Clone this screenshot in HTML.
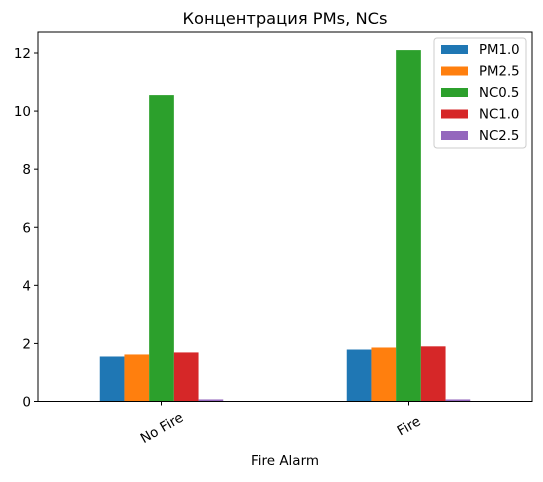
<!DOCTYPE html>
<html><head><meta charset="utf-8"><style>
body{margin:0;background:#fff;font-family:"Liberation Sans","DejaVu Sans",sans-serif;}
text{font-family:"DejaVu Sans","Liberation Sans",sans-serif;}
</style></head><body>
<svg id="c" width="543" height="477" xmlns="http://www.w3.org/2000/svg"></svg>
<script>
const categories=["No Fire","Fire"];
const seriesNames=["PM1.0","PM2.5","NC0.5","NC1.0","NC2.5"];
const pm10=[1.55,1.79];
const pm25=[1.62,1.86];
const nc05=[10.55,12.1];
const nc10=[1.69,1.9];
const nc25=[0.07,0.07];
const yTicks=[0,2,4,6,8,10,12];
const series=[pm10,pm25,nc05,nc10,nc25];
const colors=["#1f77b4","#ff7f0e","#2ca02c","#d62728","#9467bd"];
const L=38,R=532,T=32,B=401.5;
const xs=v=>L+(v+0.5)/2*(R-L);
const ys=v=>B-v*(B-53)/12;
const svg=document.getElementById('c');
const NS="http://www.w3.org/2000/svg";
function el(t,a,p){const e=document.createElementNS(NS,t);for(const k in a)e.setAttribute(k,a[k]);(p||svg).appendChild(e);return e;}
series.forEach((s,si)=>{s.forEach((v,ci)=>{
 const x0=xs(ci-0.25+si*0.1);
 const r=el('rect',{x:x0,y:ys(v),width:xs(0.1)-xs(0),height:B-ys(v),fill:colors[si]});
 
 
});});
const ax=el('rect',{x:L,y:T,width:R-L,height:B-T,fill:'none',stroke:'#000','stroke-width':1});


yTicks.forEach(t=>{
 el('line',{x1:L-4,x2:L,y1:ys(t),y2:ys(t),stroke:'#000'});
 const tx=el('text',{x:L-7,y:ys(t)+5,'font-size':13.5,'text-anchor':'end'});tx.textContent=t;
 
 
});
categories.forEach((c,i)=>{
 const x=xs(i);
 el('line',{x1:x,x2:x,y1:B,y2:B+4,stroke:'#000'});
 const cy=B+(i==0?26:24);
 const tx=el('text',{x:x,y:cy+5,'font-size':13.5,'text-anchor':'middle',transform:`rotate(-30 ${x} ${cy})`});tx.textContent=c;
 
 
});
const xt=el('text',{x:285,y:465,'font-size':13.5,'text-anchor':'middle'});xt.textContent="Fire Alarm";


const tt=el('text',{x:285,y:24,'font-size':16.3,'text-anchor':'middle'});tt.textContent="Концентрация PMs, NCs";


const lg=el('g',{});


el('rect',{x:434,y:38,width:92,height:110,rx:3,fill:'#fff',stroke:'#ccc'},lg);
seriesNames.forEach((n,i)=>{
 const y=44+i*21.5;
 el('rect',{x:441,y:y+1,width:27,height:9,fill:colors[i]},lg);
 const t=el('text',{x:479,y:y+10,'font-size':13.3},lg);t.textContent=n;
 
 
});
</script>
</body></html>
